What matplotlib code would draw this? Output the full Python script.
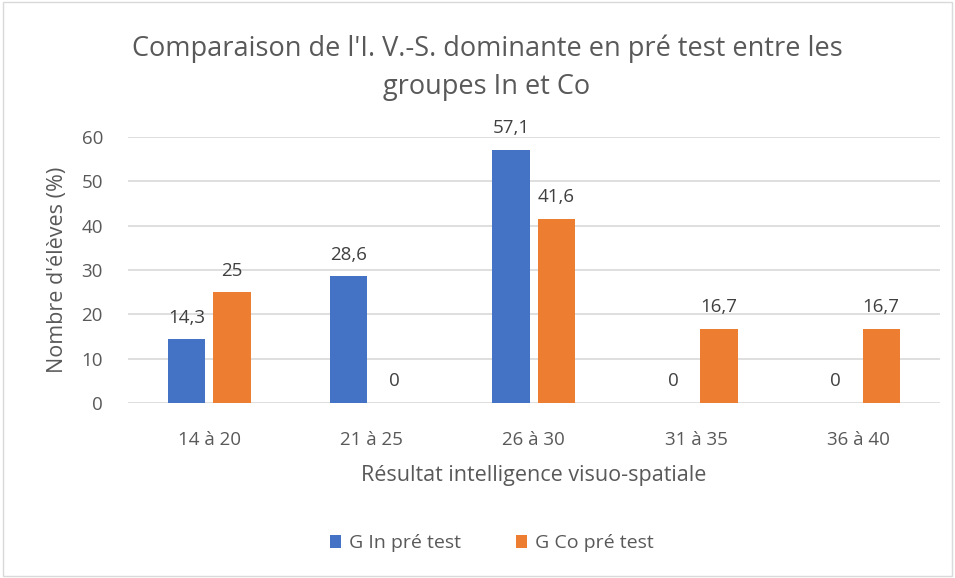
import matplotlib
matplotlib.use("Agg")
import matplotlib.pyplot as plt
import numpy as np

categories = ["14 à 20", "21 à 25", "26 à 30", "31 à 35", "36 à 40"]
g_in = [14.3, 28.6, 57.1, 0, 0]
g_co = [25, 0, 41.6, 16.7, 16.7]
series_names = ["G In pré test", "G Co pré test"]

plt.rcParams['font.family'] = ['Open Sans', 'DejaVu Sans']
txt = '#595959'

fig = plt.figure(figsize=(9.55, 5.78), dpi=100)
ax = fig.add_axes([0.134, 0.303, 0.850, 0.460])

x = np.arange(len(categories))
w = 0.23
b1 = ax.bar(x - 0.14, g_in, w, color='#4472C4', label=series_names[0], zorder=3)
b2 = ax.bar(x + 0.14, g_co, w, color='#ED7D31', label=series_names[1], zorder=3)

def lab(v):
    s = ("%g" % v).replace('.', ',')
    return s

# etiquettes de valeurs au-dessus des barres
for bars, vals in ((b1, g_in), (b2, g_co)):
    for r, v in zip(bars, vals):
        ax.text(r.get_x() + r.get_width() / 2, v + 2.8, lab(v), ha='center', va='bottom',
                fontsize=13.5, color='#404040')

ax.set_xlim(-0.5, 4.5)
ax.set_ylim(0, 60)
ax.set_yticks(range(0, 61, 10))
ax.set_xticks(x, categories)
ax.grid(axis='y', color='#d9d9d9', linewidth=1.2, zorder=0)
for s in ax.spines.values():
    s.set_visible(False)
ax.tick_params(length=0, labelsize=13.5, colors=txt)
ax.tick_params(axis='x', pad=20)
ax.tick_params(axis='y', pad=18)
ax.set_ylabel("Nombre d'élèves (%)", fontsize=15.5, color=txt, labelpad=10)
ax.set_xlabel("Résultat intelligence visuo-spatiale", fontsize=15.5, color=txt, labelpad=12)

fig.text(0.51, 0.883, "Comparaison de l'I. V.-S. dominante en pré test entre les\ngroupes In et Co",
         ha='center', va='center', fontsize=19.5, color=txt, linespacing=1.45)

fig.legend(handles=[b1, b2], loc='center', bbox_to_anchor=(0.515, 0.06), ncol=2, frameon=False,
           fontsize=14, labelcolor=txt, handlelength=0.6, handleheight=0.6,
           handletextpad=0.4, columnspacing=2.8)

fig.patches.append(plt.Rectangle((0.003, 0.003), 0.994, 0.994, transform=fig.transFigure,
                                 fill=False, edgecolor='#d9d9d9', linewidth=1))

fig.savefig("out.png", dpi=100)
